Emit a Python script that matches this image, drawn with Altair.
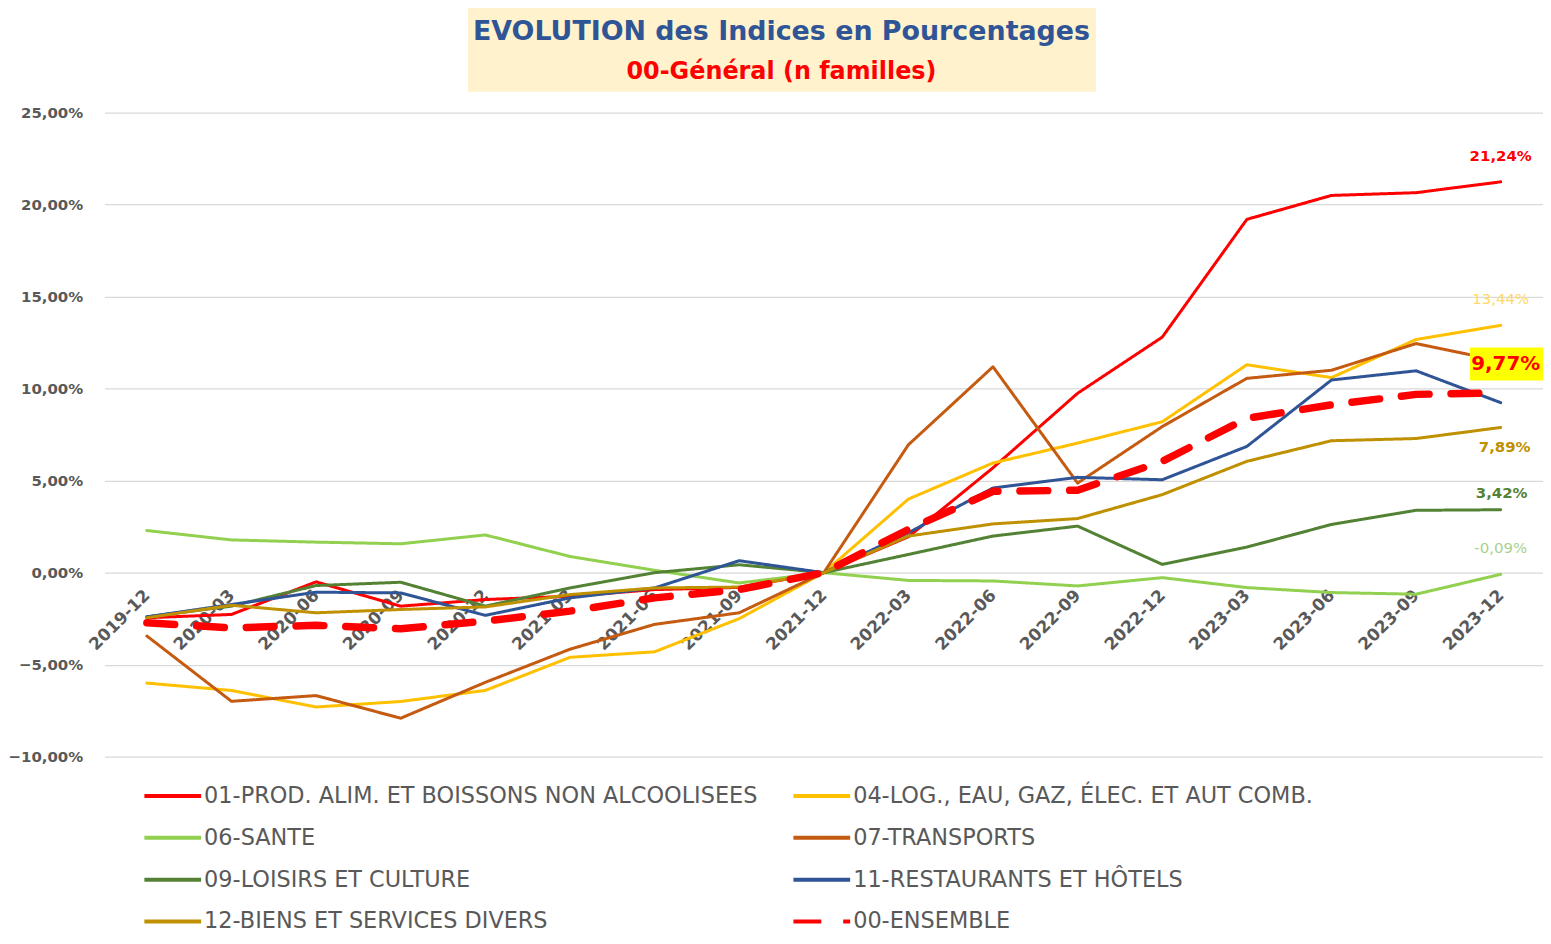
import altair as alt
import pandas as pd

periodes = ["2019-12", "2020-03", "2020-06", "2020-09", "2020-12", "2021-03", "2021-06",
            "2021-09", "2021-12", "2022-03", "2022-06", "2022-09", "2022-12", "2023-03",
            "2023-06", "2023-09", "2023-12"]

series = ["01-PROD. ALIM. ET BOISSONS NON ALCOOLISEES",
          "04-LOG., EAU, GAZ, ÉLEC. ET AUT COMB.",
          "06-SANTE",
          "07-TRANSPORTS",
          "09-LOISIRS ET CULTURE",
          "11-RESTAURANTS ET HÔTELS",
          "12-BIENS ET SERVICES DIVERS",
          "00-ENSEMBLE"]

couleurs = ["#FF0000", "#FFC000", "#92D050", "#C55A11", "#548235", "#2F5597", "#BF9000", "#FF0000"]

alim = [-2.45, -2.27, -0.50, -1.82, -1.46, -1.28, -0.92, -0.80, 0.0,
        1.95, 5.70, 9.75, 12.80, 19.20, 20.50, 20.65, 21.24]
logement = [-6.00, -6.40, -7.30, -7.00, -6.40, -4.60, -4.30, -2.50, 0.0,
            4.00, 5.96, 7.04, 8.20, 11.30, 10.60, 12.67, 13.44]
sante = [2.29, 1.78, 1.66, 1.57, 2.05, 0.88, 0.13, -0.56, 0.0,
         -0.42, -0.45, -0.72, -0.27, -0.81, -1.08, -1.17, -0.09]
transports = [-3.44, -6.99, -6.68, -7.91, -5.96, -4.16, -2.81, -2.18, 0.0,
              6.95, 11.19, 4.87, 7.94, 10.56, 11.00, 12.45, 11.50]
loisirs = [-2.40, -1.82, -0.70, -0.52, -1.82, -0.83, 0.00, 0.43, 0.0,
           0.99, 1.99, 2.53, 0.45, 1.39, 2.62, 3.39, 3.42]
restaurants = [-2.40, -1.73, -1.06, -1.10, -2.32, -1.37, -0.83, 0.65, 0.0,
               2.17, 4.60, 5.18, 5.05, 6.86, 10.47, 10.97, 9.24]
biens = [-2.45, -1.77, -2.18, -2.00, -1.86, -1.19, -0.83, -0.78, 0.0,
         1.99, 2.65, 2.94, 4.24, 6.05, 7.17, 7.29, 7.89]
ensemble = [-2.72, -3.00, -2.86, -3.05, -2.63, -2.09, -1.37, -0.92, 0.0,
            2.35, 4.42, 4.48, 6.05, 8.39, 9.12, 9.69, 9.77]

valeurs = [alim, logement, sante, transports, loisirs, restaurants, biens, ensemble]

titre = "EVOLUTION des Indices en Pourcentages"
sous_titre = "00-Général (n familles)"

rows = []
for s, vals in zip(series, valeurs):
    for p, v in zip(periodes, vals):
        rows.append({"serie": s, "periode": p, "valeur": v})
df = pd.DataFrame(rows)

FONT = "DejaVu Sans"

# legend is filled column by column: order entries so rows read (01,04) (06,07) (09,11) (12,00)
leg_order = [0, 2, 4, 6, 1, 3, 5, 7]
dom = [series[i] for i in leg_order]
col_range = [couleurs[i] for i in leg_order]
dash_range = [[28, 22] if series[i] == "00-ENSEMBLE" else [1, 0] for i in leg_order]

x_enc = alt.X("periode:O", sort=periodes,
              scale=alt.Scale(type="point", padding=0.5, domain=periodes),
              axis=alt.Axis(title=None, labelAngle=315, labelAlign="right", labelBaseline="middle",
                            labelFont=FONT, labelFontWeight="bold", labelFontSize=17,
                            labelColor="#595959", domain=False, ticks=False, grid=False,
                            offset=-185, labelPadding=20))
y_enc = alt.Y("valeur:Q", scale=alt.Scale(domain=[-10, 25], nice=False),
              axis=alt.Axis(title=None, values=[-10, -5, 0, 5, 10, 15, 20, 25],
                            labelExpr="replace(format(datum.value,'.2f'),'.',',') + '%'",
                            labelFont=FONT, labelFontWeight="bold", labelFontSize=15,
                            labelColor="#595959", domain=False, ticks=False,
                            gridColor="#D9D9D9", gridWidth=1.3, labelPadding=22))

leg = dict(title=None, orient="none", legendX=38, legendY=656, columns=2,
           symbolType="stroke", symbolSize=3249, symbolStrokeWidth=4,
           labelFont=FONT, labelFontSize=22.5,
           labelColor="#595959", rowPadding=0, columnPadding=27, labelOffset=1,
           labelLimit=800)

color_enc = alt.Color("serie:N", scale=alt.Scale(domain=dom, range=col_range),
                      sort=dom, legend=alt.Legend(**leg))
dash_enc = alt.StrokeDash("serie:N", scale=alt.Scale(domain=dom, range=dash_range),
                          sort=dom, legend=alt.Legend(**leg))

base_lines = alt.Chart(df[df.serie != "00-ENSEMBLE"]).mark_line(
    strokeCap="round", strokeJoin="round", strokeWidth=3).encode(
    x=x_enc, y=y_enc, color=color_enc, strokeDash=dash_enc)
ens_line = alt.Chart(df[df.serie == "00-ENSEMBLE"]).mark_line(
    strokeCap="round", strokeJoin="round", strokeWidth=7.5).encode(
    x=x_enc, y=y_enc, color=color_enc, strokeDash=dash_enc)

# Title box
box = alt.Chart(pd.DataFrame({"a": [0]})).mark_rect(color="#FFF2CC").encode(
    x=alt.value(365), x2=alt.value(996), y=alt.value(-108), y2=alt.value(-21))
t1 = alt.Chart(pd.DataFrame({"t": [titre]})).mark_text(
    font=FONT, fontWeight="bold", fontSize=27, color="#2F5597", align="center", baseline="middle").encode(
    text="t:N", x=alt.value(680), y=alt.value(-81))
t2 = alt.Chart(pd.DataFrame({"t": [sous_titre]})).mark_text(
    font=FONT, fontWeight="bold", fontSize=24, color="#FF0000", align="center", baseline="middle").encode(
    text="t:N", x=alt.value(680), y=alt.value(-41))


def fr(v):
    return f"{v:.2f}".replace(".", ",") + "%"


def end_label(i, color, dy, dx=0, size=15, bold=True):
    d = pd.DataFrame({"periode": [periodes[-1]], "valeur": [valeurs[i][-1]], "t": [fr(valeurs[i][-1])]})
    return alt.Chart(d).mark_text(font=FONT, fontSize=size, fontWeight="bold" if bold else "normal",
                                  color=color, dy=dy, dx=dx, align="center", baseline="middle").encode(
        x=x_enc, y=y_enc, text="t:N")


ens_d = pd.DataFrame({"periode": [periodes[-1]], "valeur": [ensemble[-1]], "t": [fr(ensemble[-1])]})
ens_box = alt.Chart(ens_d).mark_rect(color="#FFFF00", width=78, height=33, xOffset=8, yOffset=-29).encode(
    x=x_enc, y=y_enc)
ens_txt = alt.Chart(ens_d).mark_text(font=FONT, fontSize=20, fontWeight="bold", color="#FF0000",
                                     dx=5, dy=-29, align="center", baseline="middle").encode(
    x=x_enc, y=y_enc, text="t:N")

labels = [
    end_label(0, "#FF0000", -26, 0),
    end_label(1, "#FFD966", -26, 0, bold=False),
    end_label(6, "#BF9000", 20, 4),
    end_label(4, "#548235", -17, 1),
    end_label(2, "#A9D18E", -26, 0, bold=False),
]

chart = alt.layer(box, t1, t2, base_lines, ens_line, *labels, ens_box, ens_txt).properties(
    width=1445, height=647,
    padding={"left": 97, "top": 103, "right": 0, "bottom": 177},
    autosize=alt.AutoSizeParams(type="none"),
    background="white",
).configure_view(stroke=None)

chart.save("out.html", embed_options={"renderer": "svg", "actions": False})
